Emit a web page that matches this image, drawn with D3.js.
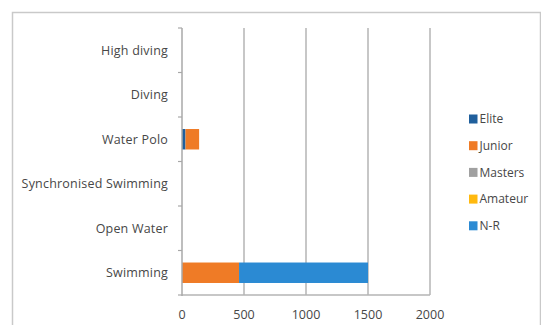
<!DOCTYPE html>
<html><head><meta charset="utf-8">
<script src="https://cdn.jsdelivr.net/npm/d3@7"></script>
<style>body{margin:0;background:#fff}svg{display:block}text{font-family:"Open Sans",Arial,sans-serif;fill:#474747}</style>
</head><body><div id="c"></div>
<script>
const categories = ["Swimming","Open Water","Synchronised Swimming","Water Polo","Diving","High diving"];
const seriesNames = ["Elite","Junior","Masters","Amateur","N-R"];
const elite   = [0, 0, 0, 28, 0, 0];
const junior  = [460, 0, 0, 110, 0, 0];
const masters = [0, 0, 0, 0, 0, 0];
const amateur = [0, 0, 0, 0, 0, 0];
const nr      = [1040, 0, 0, 0, 0, 0];
const xTicks = [0, 500, 1000, 1500, 2000];
const colors = ["#1f5f9c","#ef7b26","#a0a0a0","#ffb90f","#2b8ad3"];

const W = 541, H = 325;
const svg = d3.select("#c").append("svg").attr("width", W).attr("height", H);
svg.append("rect").attr("x",12.5).attr("y",12.5).attr("width",528).attr("height",330)
  .attr("fill","none").attr("stroke","#c9c9c9").attr("stroke-width",1.5);

const x0 = 182, x1 = 430, yTop = 28, yBot = 295;
const x = d3.scaleLinear().domain([0,2000]).range([x0,x1]);
const y = d3.scaleBand().domain(categories.slice().reverse()).range([yTop,yBot]).paddingInner(0.54).paddingOuter(0.27);
const yb = d3.scaleLinear().domain([0,categories.length]).range([yBot,yTop]);

const rows = categories.map((c,i)=>({cat:c, Elite:elite[i], Junior:junior[i], Masters:masters[i], Amateur:amateur[i], "N-R":nr[i]}));
const stack = d3.stack().keys(seriesNames)(rows);

// gridlines
svg.append("g").selectAll("line").data(xTicks.slice(1)).join("line")
  .attr("x1",d=>x(d)).attr("x2",d=>x(d)).attr("y1",yTop).attr("y2",yBot)
  .attr("stroke","#b4b4b4").attr("stroke-width",1.5);

// bars
svg.append("g").selectAll("g").data(stack).join("g").attr("fill",(d,i)=>colors[i])
  .selectAll("rect").data(d=>d.filter(s=>s[1]-s[0]>0)).join("rect")
  .attr("x",d=>x(d[0])).attr("width",d=>x(d[1])-x(d[0]))
  .attr("y",d=>y(d.data.cat)).attr("height",y.bandwidth());

// x axis line
svg.append("line").attr("x1",x0).attr("x2",x1).attr("y1",yBot).attr("y2",yBot)
  .attr("stroke","#b4b4b4").attr("stroke-width",1.5);
// y axis line + ticks
svg.append("line").attr("x1",x0).attr("x2",x0).attr("y1",yTop).attr("y2",yBot+1)
  .attr("stroke","#a8a8a8").attr("stroke-width",1.5);
svg.append("g").selectAll("line").data(d3.range(categories.length+1)).join("line")
  .attr("x1",x0-4).attr("x2",x0).attr("y1",d=>yb(d)).attr("y2",d=>yb(d))
  .attr("stroke","#a8a8a8").attr("stroke-width",1.2);

// category labels
svg.append("g").selectAll("text").data(categories).join("text")
  .attr("x",168).attr("y",d=>y(d)+y.bandwidth()/2).attr("dy","0.35em")
  .attr("text-anchor","end").attr("font-size",12.5).attr("letter-spacing",0.2).text(d=>d);

// x tick labels
svg.append("g").selectAll("text").data(xTicks).join("text")
  .attr("x",d=>x(d)).attr("y",315).attr("dy","0.35em")
  .attr("text-anchor","middle").attr("font-size",12.5).text(d=>d);

// legend
const lg = svg.append("g").selectAll("g").data(seriesNames).join("g")
  .attr("transform",(d,i)=>`translate(469,${119+i*26.7})`);
lg.append("rect").attr("x",0).attr("y",-4.5).attr("width",8.5).attr("height",9).attr("fill",(d,i)=>colors[i]);
lg.append("text").attr("x",10.5).attr("y",0).attr("dy","0.35em").attr("font-size",12).text(d=>d);
</script></body></html>
